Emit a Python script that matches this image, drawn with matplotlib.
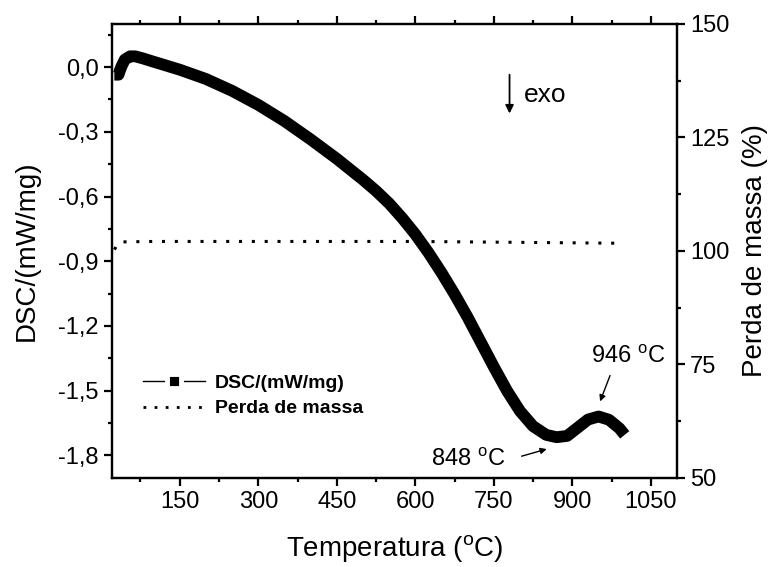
import matplotlib
matplotlib.use("Agg")
import matplotlib.pyplot as plt
from matplotlib.ticker import MultipleLocator, FuncFormatter
from matplotlib.lines import Line2D

plt.rcParams['font.family'] = ['Liberation Sans', 'DejaVu Sans']
plt.rcParams['mathtext.fontset'] = 'custom'
plt.rcParams['mathtext.rm'] = 'Liberation Sans'
plt.rcParams['mathtext.it'] = 'Liberation Sans:italic'
plt.rcParams['mathtext.bf'] = 'Liberation Sans:bold'

# DSC curve (Temperature in °C, DSC in mW/mg)
dsc_T = [25, 33, 38, 45, 55, 65, 80, 100, 150, 200, 250, 300, 350, 400, 450,
         500, 525, 550, 575, 600, 625, 650, 675, 700, 725, 750, 775, 800,
         825, 850, 870, 890, 910, 930, 950, 970, 990, 1000]
dsc_val = [-0.035, -0.035, 0.0, 0.035, 0.05, 0.05, 0.04, 0.025, -0.012, -0.055,
           -0.11, -0.175, -0.25, -0.335, -0.425, -0.522, -0.574, -0.632,
           -0.700, -0.775, -0.860, -0.953, -1.053, -1.160, -1.275, -1.390,
           -1.500, -1.595, -1.665, -1.705, -1.716, -1.710, -1.672, -1.634,
           -1.620, -1.635, -1.675, -1.705]

# Mass loss curve (%)
mass_T = [25, 32, 40, 100, 200, 300, 400, 500, 600, 700, 800, 900, 996]
mass_val = [100.3, 101.6, 102.0, 102.1, 102.1, 102.1, 102.1, 102.1, 102.1,
            102.0, 101.9, 101.8, 101.7]

x_ticks = [150, 300, 450, 600, 750, 900, 1050]
y_left_ticks = [-1.8, -1.5, -1.2, -0.9, -0.6, -0.3, 0.0]
y_right_ticks = [50, 75, 100, 125, 150]

fig = plt.figure(figsize=(7.72, 5.67), dpi=100)
ax = fig.add_axes([0.1447, 0.157, 0.7323, 0.8007])
ax2 = ax.twinx()

ax.plot(dsc_T, dsc_val, color='black', lw=8.5, solid_capstyle='butt',
        solid_joinstyle='round', zorder=3)
ax2.plot(mass_T, mass_val, color='black', lw=2.2, linestyle=(0, (1, 3.2)),
         dash_capstyle='butt')

ax.set_xlim(20, 1100)
ax.set_ylim(-1.905, 0.2)
ax2.set_ylim(50, 150)

ax.set_xticks(x_ticks)
ax.xaxis.set_minor_locator(MultipleLocator(75))
ax.set_yticks(y_left_ticks)
ax.yaxis.set_minor_locator(MultipleLocator(0.15))
ax2.set_yticks(y_right_ticks)
ax2.yaxis.set_minor_locator(MultipleLocator(12.5))

def comma_fmt(v, pos):
    s = f"{v:.1f}".replace('.', ',')
    if s == "-0,0":
        s = "0,0"
    return s

ax.yaxis.set_major_formatter(FuncFormatter(comma_fmt))

for a in (ax, ax2):
    for sp in a.spines.values():
        sp.set_linewidth(1.6)
    a.tick_params(which='major', direction='out', length=6, width=1.6,
                  labelsize=17)
    a.tick_params(which='minor', direction='out', length=3, width=1.6)

ax.tick_params(axis='x', which='both', top=True, bottom=True)
ax.tick_params(axis='y', which='both', right=False)
ax2.tick_params(axis='y', which='both', right=True, left=False)

ax.set_xlabel('Temperatura ($^{\\mathrm{o}}$C)', fontsize=20, labelpad=14)
ax.set_ylabel('DSC/(mW/mg)', fontsize=20, labelpad=13)
ax2.set_ylabel('Perda de massa (%)', fontsize=20, labelpad=9)

# exo arrow
ax.annotate('', xy=(780, -0.215), xytext=(780, -0.035),
            arrowprops=dict(arrowstyle='-|>', lw=1.3, color='black',
                            mutation_scale=12, shrinkA=0, shrinkB=0))
ax.text(808, -0.13, 'exo', fontsize=19, ha='left', va='center')

# peak annotations
ax.annotate('', xy=(953, -1.55), xytext=(972, -1.43),
            arrowprops=dict(arrowstyle='-|>', lw=1.0, color='black',
                            mutation_scale=9, shrinkA=0, shrinkB=0))
ax.text(1006, -1.345, '946 $^{\\mathrm{o}}$C', fontsize=17, ha='center',
        va='center')
ax.annotate('', xy=(851, -1.771), xytext=(803, -1.804),
            arrowprops=dict(arrowstyle='-|>', lw=1.0, color='black',
                            mutation_scale=9, shrinkA=0, shrinkB=0))
ax.text(700, -1.822, '848 $^{\\mathrm{o}}$C', fontsize=17, ha='center',
        va='center')

# legend
h1 = Line2D([], [], color='black', lw=1.0, marker='s', markersize=10,
            markerfacecolor='black', markeredgecolor='white',
            markeredgewidth=3.5)
h2 = Line2D([], [], color='black', lw=2.0, linestyle=(0, (1, 3)))
leg = ax.legend([h1, h2], ['DSC/(mW/mg)', 'Perda de massa'],
                loc='center left', bbox_to_anchor=(0.055, 0.181),
                frameon=False, borderpad=0, borderaxespad=0,
                handlelength=3.2, handletextpad=0.5, labelspacing=0.4,
                numpoints=1, prop={'weight': 'bold', 'size': 14})

fig.savefig('out.png', dpi=100)
